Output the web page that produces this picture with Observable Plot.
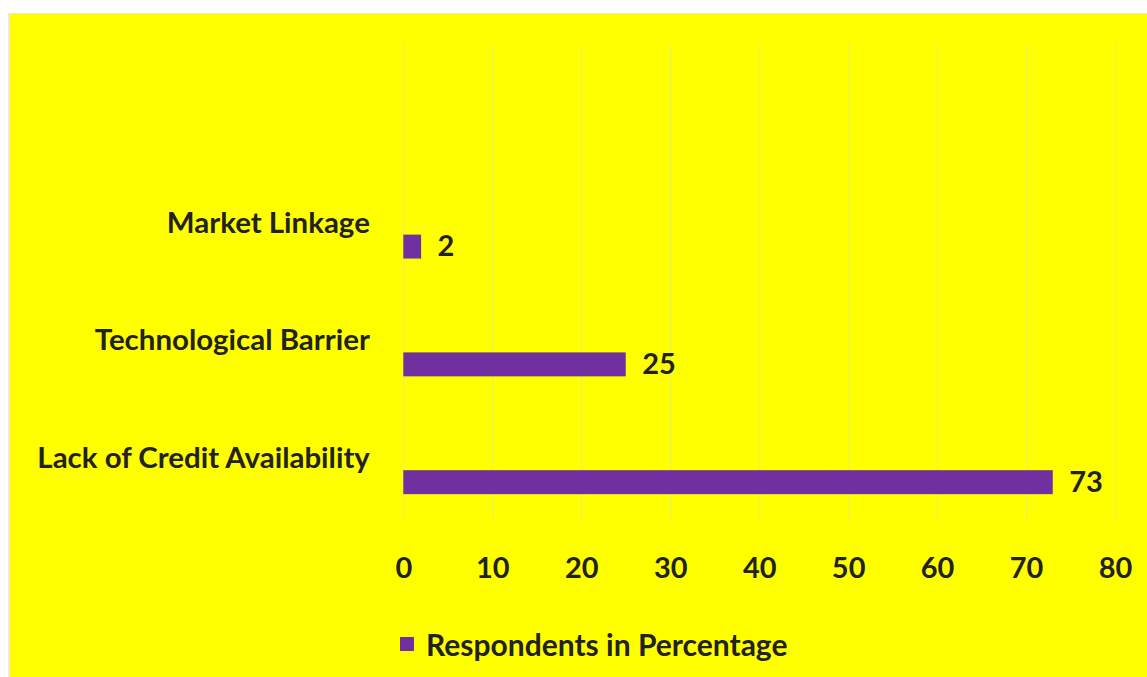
<!DOCTYPE html>
<html>
<head>
<meta charset="utf-8">
<script src="https://cdn.jsdelivr.net/npm/d3@7"></script>
<script src="https://cdn.jsdelivr.net/npm/@observablehq/plot@0.6"></script>
<style>
  html, body { margin: 0; padding: 0; background: #ffffff; }
  #panel {
    position: absolute; left: 8px; top: 13px; width: 1139px; height: 664px;
    background: #ffff00; border-top: 1px solid #f2e6b8; border-left: 2px solid #f5e8c8;
    box-sizing: border-box; overflow: hidden;
    font-family: Lato, "Open Sans", sans-serif; font-weight: bold; color: #222;
  }
  #legend { position: absolute; left: 390px; top: 615px; height: 30px; display: flex; align-items: center; font-size: 30px; }
  #legend .sw { width: 14px; height: 14px; background: #7030a0; margin-right: 12px; }
</style>
</head>
<body>
<div id="panel">
  <div id="chart"></div>
  <div id="legend"><span class="sw"></span><span id="legend-label"></span></div>
</div>
<script>
const categories = ["Market Linkage", "Technological Barrier", "Lack of Credit Availability"];
const values = [2, 25, 73];
const xTicks = [0, 10, 20, 30, 40, 50, 60, 70, 80];
const seriesName = "Respondents in Percentage";

const data = categories.map((c, i) => ({category: c, value: values[i]}));

const chart = Plot.plot({
  width: 1139,
  height: 600,
  marginLeft: 394,
  marginRight: 32,
  marginTop: 30,
  marginBottom: 93,
  style: {background: "transparent", fontFamily: "Lato, 'Open Sans', sans-serif", fontWeight: "bold", fontSize: "29px", color: "#222", overflow: "visible"},
  x: {domain: [0, 80], ticks: xTicks, label: null},
  y: {domain: categories, range: [150, 504], padding: 0, label: null},
  marks: [
    Plot.gridX(xTicks, {stroke: "#d8d8d8", strokeOpacity: 0.35, strokeWidth: 1.5}),
    Plot.axisX({ticks: xTicks, tickSize: 0, tickPadding: 37, fontSize: 29, fontWeight: "bold", label: null}),
    Plot.axisY({tickSize: 0, tickPadding: 34, fontSize: 29.5, fontWeight: "bold", label: null}),
    Plot.barX(data, {y: "category", x: "value", fill: "#7030a0", insetTop: 71, insetBottom: 23}),
    Plot.text(data, {y: "category", x: "value", text: d => String(d.value), dx: 16, dy: 24, textAnchor: "start", fontSize: 29, fontWeight: "bold", fill: "#222"})
  ]
});
document.getElementById("chart").appendChild(chart);
document.getElementById("legend-label").textContent = seriesName;
</script>
</body>
</html>
